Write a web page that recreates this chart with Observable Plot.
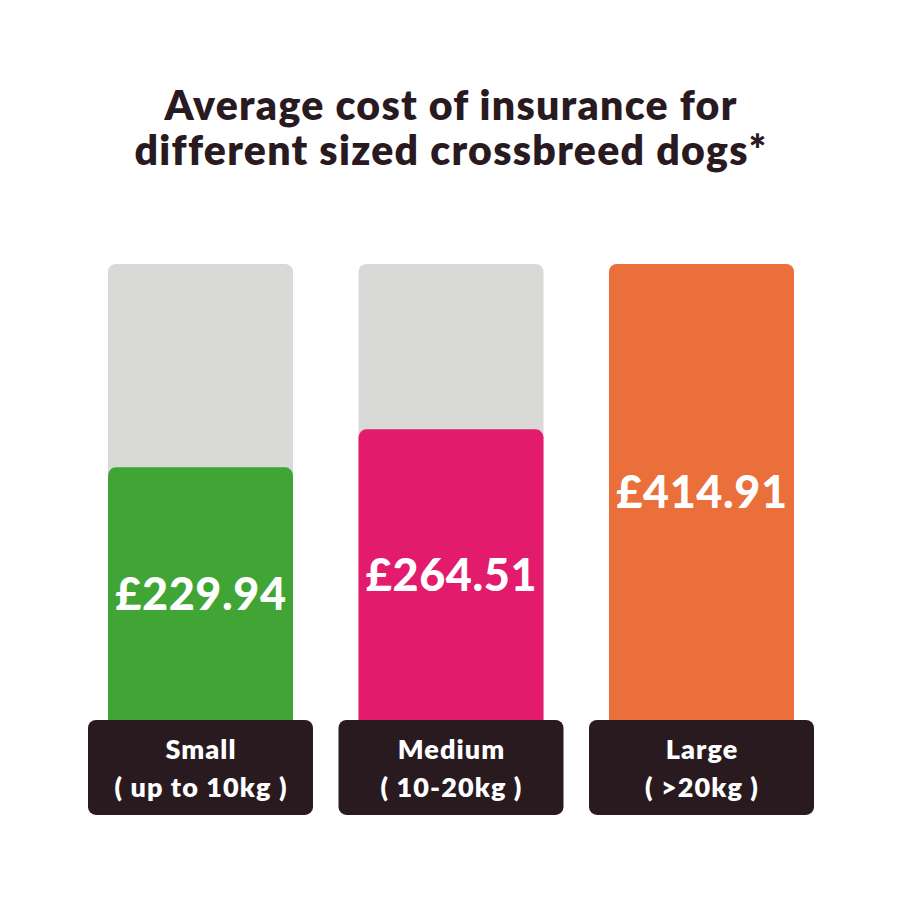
<!DOCTYPE html>
<html><head><meta charset="utf-8">
<script src="https://cdn.jsdelivr.net/npm/d3@7"></script>
<script src="https://cdn.jsdelivr.net/npm/@observablehq/plot@0.6"></script>
<style>
html,body{margin:0;padding:0;background:#fff}
#t{height:200px;box-sizing:border-box;padding-top:82px;text-align:center;width:902px;color:#291a1f;font:800 41px/45px Lato,sans-serif;letter-spacing:1.3px}
#t div{white-space:nowrap}
svg{display:block}
.val text,text.val{letter-spacing:.6px}
.cat text,text.cat{letter-spacing:1.1px}
</style>
</head><body><div id="t"></div><div id="c"></div>
<script>
const sizes = ["Small","Medium","Large"];
const ranges = ["( up to 10kg )","( 10-20kg )","( >20kg )"];
const costs = [229.94,264.51,414.91];
const labels = ["£229.94","£264.51","£414.91"];
const colors = ["#40a535","#e31b6d","#ea6f3b"];
const titleLines = ["Average cost of insurance for","different sized crossbreed dogs*"];
const maxCost = 414.91;
const boxDepth = -86.4;
const data = sizes.map((s,i)=>({s,cat:s+"\n"+ranges[i],v:costs[i],l:labels[i],c:colors[i]}));
const font = "Lato, sans-serif";
titleLines.forEach(t=>{const d=document.createElement("div");d.textContent=t;document.getElementById("t").append(d);});
const chart = Plot.plot({
  width:902,height:702,margin:0,
  style:{fontFamily:font,background:"#fff"},
  x:{type:"band",domain:sizes,range:[108,794],paddingInner:0.2615,paddingOuter:0,round:false,axis:null},
  y:{domain:[0,maxCost],range:[520,64],axis:null},
  marks:[
    Plot.barY(data,{x:"s",y1:0,y2:maxCost,fill:"#d9d9d7",ry1:8}),
    Plot.barY(data,{x:"s",y1:0,y2:"v",fill:d=>d.c,ry1:8}),
    Plot.barY(data,{x:"s",y1:0,y2:boxDepth,fill:"#291a1f",r:8,insetLeft:-20,insetRight:-20}),
    Plot.text(data,{x:"s",y:d=>d.v/2,text:"l",fill:"#fff",fontSize:45,fontWeight:900,dy:1,className:"val"}),
    Plot.text(data,{x:"s",y:boxDepth/2,text:"cat",fill:"#fff",fontSize:27,fontWeight:800,lineHeight:1.41,dy:-2,className:"cat"})
  ]
});
document.getElementById("c").append(chart);
</script></body></html>
